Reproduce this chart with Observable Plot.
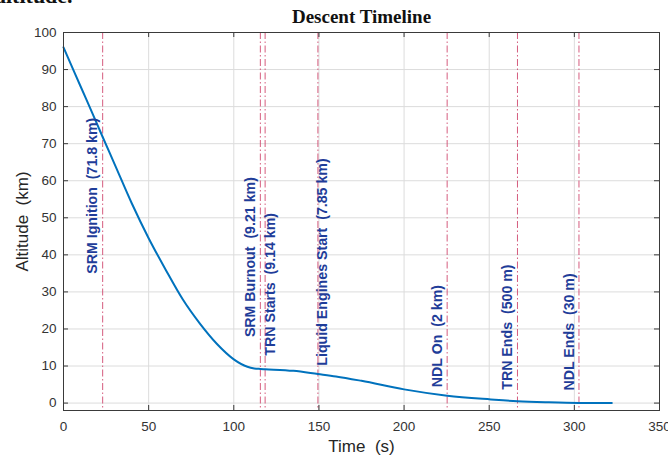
<!DOCTYPE html>
<html>
<head>
<meta charset="utf-8">
<script src="https://cdn.jsdelivr.net/npm/d3@7"></script>
<script src="https://cdn.jsdelivr.net/npm/@observablehq/plot@0.6"></script>
<style>
  html, body { margin: 0; padding: 0; background: #fff; overflow: hidden; }
  #wrap { position: relative; width: 668px; height: 456px; }
  #cut { position: absolute; top: -15px; left: -5px; font: bold 22px/22px "Liberation Serif", "DejaVu Serif", serif; color: #111; white-space: nowrap; }
  #chart { position: absolute; top: 0; left: 0; }
</style>
</head>
<body>
<div id="wrap">
  <div id="cut">altitude.</div>
  <div id="chart"></div>
</div>
<script>
// ---- data ----
const curveTime = [0, 10, 20, 23, 30, 40, 50, 60, 70, 80, 90, 100, 108, 112, 115.6, 118.4, 135, 149.4, 160, 175, 200, 225.3, 251, 266.6, 285, 302.7, 322];
const curveAlt  = [96, 85.5, 75, 71.8, 64.5, 54, 44.5, 36, 28, 21.5, 16, 11.8, 9.8, 9.35, 9.21, 9.14, 8.7, 7.85, 7.2, 6.0, 3.7, 2.0, 1.0, 0.5, 0.2, 0.03, 0];

const eventNames = ["SRM Ignition", "SRM Burnout", "TRN Starts", "Liquid Engines Start", "NDL On", "TRN Ends", "NDL Ends"];
const eventValues = ["71.8 km", "9.21 km", "9.14 km", "7.85 km", "2 km", "500 m", "30 m"];
const eventTime = [23, 115.6, 118.4, 149.4, 225.3, 266.6, 302.7];
const eventLabelAlt = [34.9, 17.8, 12.8, 10.1, 4.3, 3.6, 3.4];
const eventSide = ["left", "left", "right", "right", "left", "left", "left"];

const xTicks = [0, 50, 100, 150, 200, 250, 300, 350];
const yTicks = [0, 10, 20, 30, 40, 50, 60, 70, 80, 90, 100];

const titleText = "Descent Timeline";
const xLabel = "Time\u00a0 (s)";
const yLabel = "Altitude\u00a0 (km)";

// ---- build tables ----
const curve = curveTime.map((t, i) => ({t, alt: curveAlt[i]}));
const events = eventNames.map((n, i) => ({
  t: eventTime[i],
  labelAlt: eventLabelAlt[i],
  label: n + "\u00a0 (" + eventValues[i] + ")",
  side: eventSide[i]
}));

const W = 668, H = 456;
const mL = 63, mR = 9, mT = 32, mB = 46;
const innerW = W - mL - mR, innerH = H - mT - mB;
const tickLen = 5;
const frameColor = "#3a3a3a";
const labelBlue = "#1f3d99";

const chart = Plot.plot({
  width: W, height: H,
  marginLeft: mL, marginRight: mR, marginTop: mT, marginBottom: mB,
  style: {fontFamily: "'Liberation Sans', Arial, sans-serif", fontSize: "13.5px", background: "transparent", color: "#333", overflow: "visible"},
  x: {domain: [0, 350], ticks: xTicks, tickSize: 0, tickPadding: 11, label: null},
  y: {domain: [-2, 100], ticks: yTicks, tickSize: 0, tickPadding: 7, label: null},
  marks: [
    Plot.gridX(xTicks, {stroke: "#dcdcdc", strokeOpacity: 1}),
    Plot.gridY(yTicks, {stroke: "#dcdcdc", strokeOpacity: 1}),
    Plot.ruleX(events, {x: "t", stroke: "#d04a70", strokeOpacity: 0.9, strokeWidth: 1, strokeDasharray: "7,2.5,1.5,2.5"}),
    Plot.line(curve, {x: "t", y: "alt", stroke: "#0072BD", strokeWidth: 2, curve: "monotone-x"}),
    Plot.text(events.filter(d => d.side === "left"), {x: "t", y: "labelAlt", text: "label", rotate: -90, textAnchor: "start", lineAnchor: "middle", dx: -10, fill: labelBlue, fontWeight: "bold", fontSize: 14.2}),
    Plot.text(events.filter(d => d.side === "right"), {x: "t", y: "labelAlt", text: "label", rotate: -90, textAnchor: "start", lineAnchor: "middle", dx: 5, fill: labelBlue, fontWeight: "bold", fontSize: 14.2}),
    // inward ticks on all four sides
    Plot.tickX(xTicks, {x: d => d, stroke: frameColor, insetTop: innerH - tickLen}),
    Plot.tickX(xTicks, {x: d => d, stroke: frameColor, insetBottom: innerH - tickLen}),
    Plot.tickY(yTicks, {y: d => d, stroke: frameColor, insetRight: innerW - tickLen}),
    Plot.tickY(yTicks, {y: d => d, stroke: frameColor, insetLeft: innerW - tickLen}),
    Plot.frame({stroke: frameColor, strokeWidth: 1}),
    // axis titles and chart title
    Plot.text([xLabel], {text: d => d, frameAnchor: "bottom", textAnchor: "middle", lineAnchor: "middle", dy: 36, fontSize: 17, fill: "#262626"}),
    Plot.text([yLabel], {text: d => d, frameAnchor: "left", textAnchor: "middle", lineAnchor: "middle", rotate: -90, dx: -41, fontSize: 17, fill: "#262626"}),
    Plot.text([titleText], {text: d => d, frameAnchor: "top", textAnchor: "middle", lineAnchor: "bottom", dy: -9.5, fontSize: 19, fontWeight: "bold", fontFamily: "'Liberation Serif', 'DejaVu Serif', serif", fill: "#111"})
  ]
});
document.getElementById("chart").appendChild(chart);
</script>
</body>
</html>
